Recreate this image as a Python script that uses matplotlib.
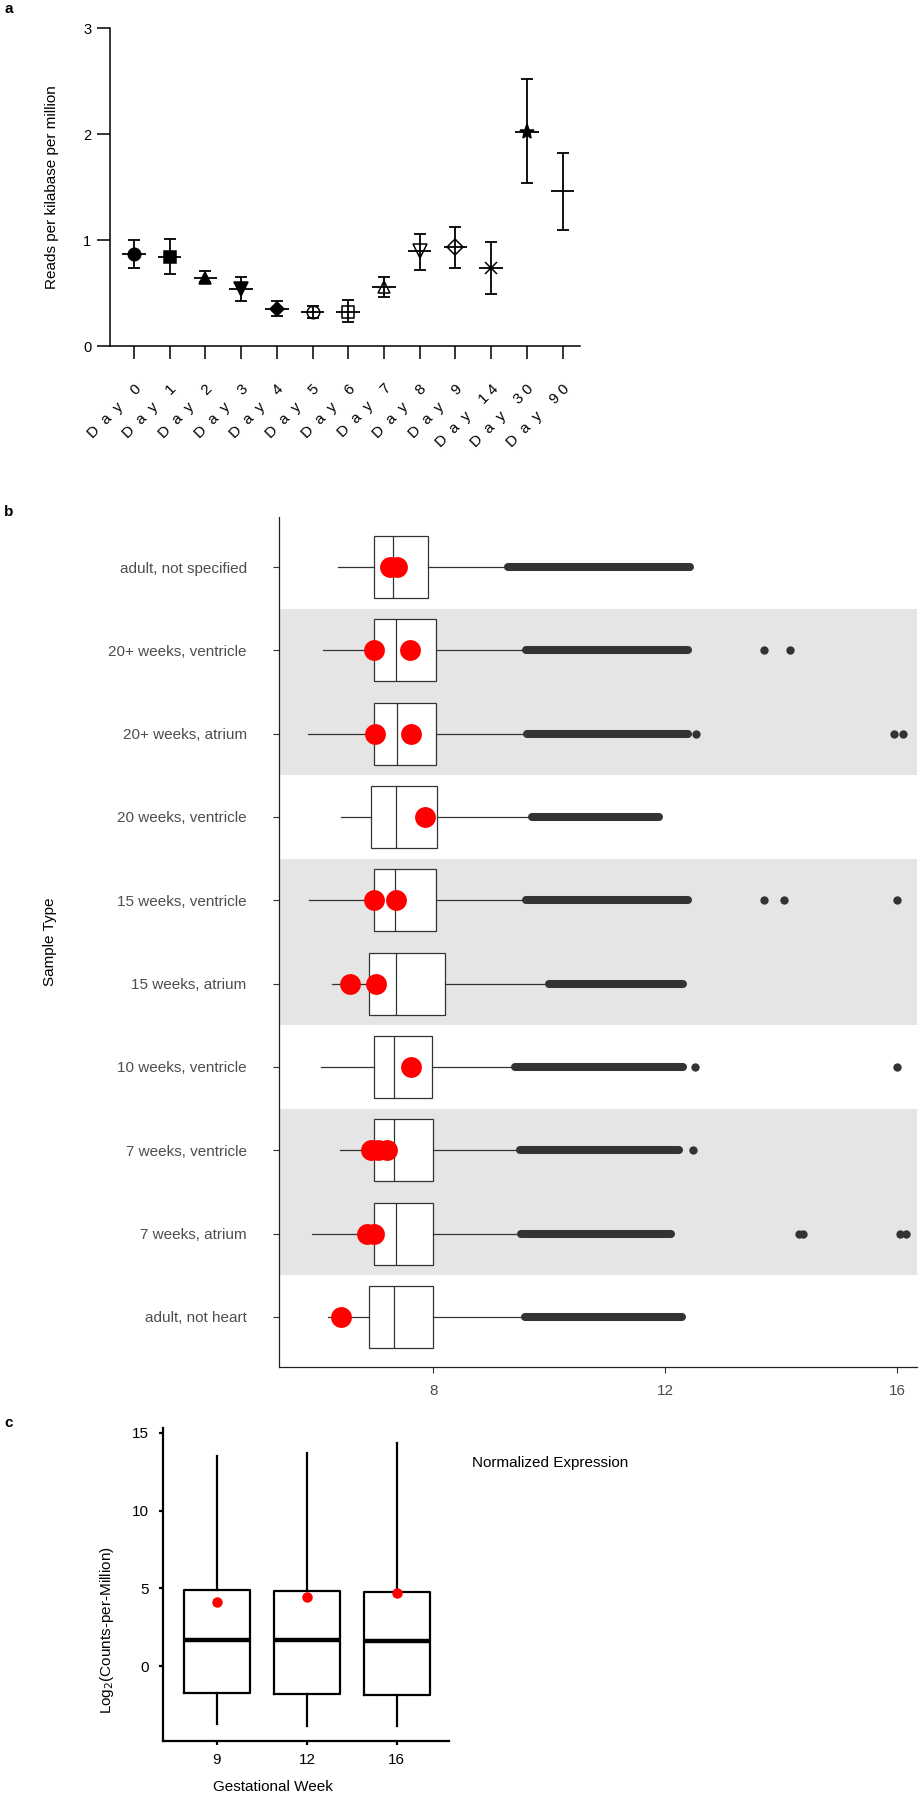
import matplotlib
matplotlib.use("Agg")
import matplotlib.pyplot as plt

plt.rcParams['font.family'] = ['Liberation Sans', 'DejaVu Sans']

# ---- panel a: RPKM over days ----
days = ['Day 0', 'Day 1', 'Day 2', 'Day 3', 'Day 4', 'Day 5', 'Day 6',
        'Day 7', 'Day 8', 'Day 9', 'Day 14', 'Day 30', 'Day 90']
rpkm_mean = [0.87, 0.84, 0.64, 0.54, 0.35, 0.32, 0.32, 0.56, 0.90, 0.93, 0.74, 2.02, 1.46]
rpkm_low = [0.74, 0.68, 0.60, 0.42, 0.28, 0.26, 0.23, 0.46, 0.72, 0.74, 0.49, 1.54, 1.09]
rpkm_high = [1.00, 1.01, 0.71, 0.65, 0.42, 0.38, 0.43, 0.65, 1.06, 1.12, 0.98, 2.52, 1.82]
day_markers = ['o', 's', '^', 'v', 'D', 'o', 's', '^', 'v', 'D', 'x', '*', None]
day_filled = [True, True, True, True, True, False, False, False, False, False, False, True, False]
day_msize = [9, 9, 9, 10, 7, 9, 9, 9, 10, 8, 9, 11, 0]

# ---- panel b: normalized expression per sample type (top to bottom) ----
sample_types = ['adult, not specified', '20+ weeks, ventricle', '20+ weeks, atrium',
                '20 weeks, ventricle', '15 weeks, ventricle', '15 weeks, atrium',
                '10 weeks, ventricle', '7 weeks, ventricle', '7 weeks, atrium',
                'adult, not heart']
shaded = [False, True, True, False, True, True, False, True, True, False]
whis_lo = [6.36, 6.10, 5.84, 6.41, 5.86, 6.26, 6.07, 6.40, 5.91, 6.19]
q1 = [6.98, 6.98, 6.98, 6.93, 6.97, 6.90, 6.98, 6.97, 6.97, 6.90]
med = [7.31, 7.35, 7.38, 7.36, 7.34, 7.36, 7.33, 7.33, 7.36, 7.33]
q3 = [7.91, 8.05, 8.05, 8.07, 8.05, 8.20, 7.98, 8.00, 8.00, 8.00]
out_start = [9.28, 9.60, 9.62, 9.70, 9.60, 10.00, 9.41, 9.50, 9.52, 9.58]
out_end = [12.43, 12.40, 12.40, 11.90, 12.40, 12.30, 12.31, 12.24, 12.09, 12.28]
far_out = [[], [13.70, 14.15], [12.53, 15.95, 16.10], [], [13.70, 14.05, 16.00],
           [], [12.52, 16.00], [12.47], [14.30, 14.38, 16.05, 16.15], []]
red_pts = [[7.25, 7.38], [6.98, 7.60], [7.00, 7.62], [7.86], [6.97, 7.36],
           [6.57, 7.02], [7.62], [6.93, 7.05, 7.20], [6.86, 6.98], [6.41]]

# ---- panel c: log2 CPM by gestational week ----
weeks = ['9', '12', '16']
c_q1 = [-1.70, -1.75, -1.85]
c_med = [1.70, 1.70, 1.60]
c_q3 = [4.90, 4.85, 4.75]
c_lo = [-3.70, -3.85, -3.85]
c_hi = [13.50, 13.70, 14.35]
c_gene = [4.15, 4.45, 4.70]

W, H = 920, 1800
fig = plt.figure(figsize=(W / 100, H / 100), dpi=100)


def px_axes(l, t, r, b):
    return fig.add_axes([l / W, 1 - b / H, (r - l) / W, (b - t) / H])


def spaced(label):
    word, num = label.split(' ')
    return '  '.join(word) + '    ' + ' '.join(num)


# panel a
axa = px_axes(110, 28, 580, 346)
for i in range(len(days)):
    m = rpkm_mean[i]
    axa.errorbar(i, m, yerr=[[m - rpkm_low[i]], [rpkm_high[i] - m]], fmt='none',
                 ecolor='black', elinewidth=1.3, capsize=4, capthick=1.3, zorder=2)
    axa.hlines(m, i - 0.33, i + 0.33, color='black', lw=1.3, zorder=2)
    if day_markers[i]:
        axa.plot(i, m, marker=day_markers[i], ms=day_msize[i],
                 mfc='black' if day_filled[i] else 'none', mec='black', mew=1.1, zorder=3)
axa.set_xlim(-0.67, 12.49)
axa.set_ylim(0, 3)
axa.set_yticks([0, 1, 2, 3])
axa.set_xticks(range(len(days)))
axa.set_xticklabels([spaced(d) for d in days], rotation=45, ha='right', va='top',
                    rotation_mode='anchor', fontsize=11)
axa.tick_params(axis='y', length=9.5, width=1.1, pad=4, labelsize=10.5)
axa.tick_params(axis='x', length=9.5, width=1.1, pad=16)
for s in ['top', 'right']:
    axa.spines[s].set_visible(False)
for s in ['left', 'bottom']:
    axa.spines[s].set_linewidth(1.1)
fig.text(52 / W, 1 - 187 / H, 'Reads per kilabase per million', rotation=90,
         ha='center', va='center', fontsize=11)

# panel b
gray_txt = '#4d4d4d'
n = len(sample_types)
axb = px_axes(279, 517, 917, 1367)
for i in range(n):
    y = n - 1 - i
    if shaded[i]:
        axb.axhspan(y - 0.5, y + 0.5, color='#e5e5e5', lw=0, zorder=0)
stats = []
for i in range(n):
    stats.append({'med': med[i], 'q1': q1[i], 'q3': q3[i],
                  'whislo': whis_lo[i], 'whishi': out_start[i], 'fliers': []})
ys = [n - 1 - i for i in range(n)]
axb.bxp(stats, positions=ys, widths=0.745, orientation='horizontal', showcaps=False,
        showfliers=False, patch_artist=True,
        boxprops=dict(facecolor='white', edgecolor='#333333', lw=0.9),
        medianprops=dict(color='#333333', lw=0.9),
        whiskerprops=dict(color='#333333', lw=0.9), zorder=2)
for i in range(n):
    y = n - 1 - i
    axb.plot([out_start[i], out_end[i]], [y, y], color='#333333', lw=5.8,
             solid_capstyle='round', zorder=3)
    if far_out[i]:
        axb.plot(far_out[i], [y] * len(far_out[i]), 'o', ms=6, color='#333333',
                 mec='none', zorder=3)
    axb.plot(red_pts[i], [y] * len(red_pts[i]), 'o', ms=15, color='red',
             mec='none', zorder=4)
axb.set_ylim(-0.6, n - 1 + 0.6)
axb.set_xlim(5.34, 16.34)
axb.set_yticks(ys)
axb.set_yticklabels(sample_types)
axb.set_xticks([8, 12, 16])
axb.tick_params(axis='y', length=4.3, width=0.8, pad=19, labelsize=11,
                colors='#333333', labelcolor=gray_txt)
axb.tick_params(axis='x', length=4.3, width=0.8, pad=8, labelsize=11,
                colors='#333333', labelcolor=gray_txt)
for s in ['top', 'right']:
    axb.spines[s].set_visible(False)
for s in ['left', 'bottom']:
    axb.spines[s].set_linewidth(0.9)
    axb.spines[s].set_color('#222222')
axb.set_facecolor('white')
fig.text(50 / W, 1 - 942 / H, 'Sample Type', rotation=90, ha='center', va='center',
         fontsize=11, color='black')
fig.text(550 / W, 1 - 1463 / H, 'Normalized Expression', ha='center', va='center',
         fontsize=11, color='black')

# panel c
axc = px_axes(163, 1428, 449, 1741)
cstats = []
for i in range(len(weeks)):
    cstats.append({'med': c_med[i], 'q1': c_q1[i], 'q3': c_q3[i],
                   'whislo': c_lo[i], 'whishi': c_hi[i], 'fliers': []})
axc.bxp(cstats, positions=range(len(weeks)), widths=0.74, showcaps=False,
        showfliers=False,
        boxprops=dict(color='black', lw=1.6),
        medianprops=dict(color='black', lw=3.2),
        whiskerprops=dict(color='black', lw=1.6))
axc.plot(range(len(weeks)), c_gene, 'o', color='red', ms=7.5, mec='none', zorder=4)
axc.set_xlim(-0.6, 2.58)
axc.set_ylim(-4.8, 15.3)
axc.set_yticks([0, 5, 10, 15])
axc.set_xticks(range(len(weeks)))
axc.set_xticklabels(weeks)
axc.tick_params(axis='both', length=3, width=1.6, labelsize=11)
axc.tick_params(axis='y', pad=7)
axc.tick_params(axis='x', pad=6)
for s in ['top', 'right']:
    axc.spines[s].set_visible(False)
for s in ['left', 'bottom']:
    axc.spines[s].set_linewidth(1.6)
fig.text(273 / W, 1 - 1787 / H, 'Gestational Week', ha='center', va='center', fontsize=11)
fig.text(107 / W, 1 - 1630 / H, 'Log$_2$(Counts-per-Million)', rotation=90,
         ha='center', va='center', fontsize=11)

# panel letters
fig.text(9 / W, 1 - 9 / H, 'a', fontsize=11, fontweight='bold', ha='center', va='center')
fig.text(9 / W, 1 - 512 / H, 'b', fontsize=11, fontweight='bold', ha='center', va='center')
fig.text(9 / W, 1 - 1423 / H, 'c', fontsize=11, fontweight='bold', ha='center', va='center')

fig.savefig('out.png', dpi=100)
